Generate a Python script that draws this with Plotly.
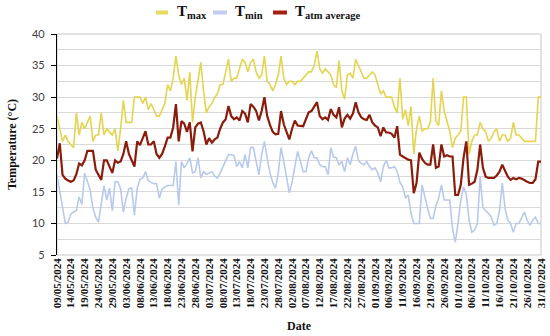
import pandas as pd
import plotly.graph_objects as go

start_date = "2024-05-09"
n_days = 176
dates = pd.date_range(start_date, periods=n_days, freq="D")

t_max = [27, 25, 23, 24, 23, 22.5, 22, 27.5, 24, 26, 25, 26, 27, 23, 24, 24, 27.5, 24, 25, 24.5,
         24, 25, 21.5, 25, 29.5, 26, 26, 26, 30, 30, 30, 29, 30, 28, 29, 28, 27, 27, 28, 29,
         32, 31, 33, 36.5, 33.5, 32, 33, 29.5, 34, 26, 30, 33, 35.5, 31, 27.5, 28.5, 29, 30, 30.5, 32,
         32, 34, 36, 32.5, 33, 33, 34.5, 36, 35.5, 34, 35.5, 36, 34, 33, 33.5, 36.5, 32.5, 32, 31, 32,
         33.5, 36.5, 33, 32, 32.5, 32.5, 32, 32.5, 32.5, 33, 33.5, 34, 34, 35, 37.3, 34.5, 33.8, 34.5, 34, 33.5,
         32, 31.5, 35.8, 31, 29.7, 33.5, 33.8, 33, 36, 35, 34, 33, 33, 33.5, 34, 33.5, 32, 30.5, 31, 30,
         30, 30, 28.5, 27.5, 33, 26.5, 28, 25.5, 28.5, 21, 25, 27, 24.6, 25, 25, 26, 33, 26.2, 25.5, 31,
         27.8, 26, 24.6, 22, 23.5, 24, 24.6, 30, 30, 21, 23, 24, 24, 26, 25, 24.5, 23, 23.5, 24.5, 25,
         23, 24, 24, 23, 23.5, 26, 24, 24, 23.5, 23, 23, 23, 23, 23, 30, 30]

t_min = [17.7, 15, 12.9, 10, 10.2, 11.5, 11.8, 12, 14.2, 13, 18, 16.5, 15.3, 12.4, 11, 10.2, 13.5, 16, 13.7, 15.6,
         12, 16.6, 16.6, 15.5, 11.8, 14, 15.5, 15.6, 11.3, 15.6, 17, 17.2, 18.2, 16.8, 16.5, 16.3, 16.3, 14, 15.5, 15.8,
         16, 16, 16, 19.8, 12.9, 19.8, 18.8, 19.5, 20.4, 18, 18.2, 20.4, 17.2, 18.2, 17.8, 18, 18.2, 17.5, 17.2, 18,
         19, 20, 20.9, 20.9, 20.7, 19, 19.8, 18.8, 20.9, 18.8, 22, 22, 19.8, 17.7, 20.9, 23, 20.3, 18, 16.5, 15.6,
         18, 22, 19.8, 17, 14.8, 16.6, 19.2, 21.4, 19.8, 18.2, 18.2, 20.4, 21.5, 20.4, 20.4, 19.3, 19, 19, 17.7, 22,
         20.5, 20.4, 19.3, 19.8, 18.2, 20.4, 19.3, 21, 22.2, 20, 19.5, 19.3, 19.8, 19, 18.5, 18.8, 18, 16.6, 19, 20,
         18.8, 18.8, 19, 18.2, 16.5, 15.8, 14, 14.5, 11.6, 10, 10, 10, 16.1, 14, 12.4, 10.8, 10.8, 12.8, 14, 16.1,
         13.7, 13.7, 13.7, 9.2, 7, 10, 13.7, 15.8, 14.5, 10.5, 8.6, 9, 10, 17.4, 12.5, 12, 11.6, 11, 9.7, 10,
         12, 16.4, 12.4, 10.5, 10, 8.6, 10, 10, 10.8, 11.8, 10.5, 9.7, 10.5, 11, 10, 10]

t_avg = [20.3, 22.7, 17.7, 17.1, 16.8, 16.6, 16.8, 17.8, 19.5, 19.2, 20, 21.5, 21.5, 21.5, 18.5, 17.7, 16.9, 20, 20, 19,
         18, 20, 19.6, 19.8, 21, 23, 21, 20, 19, 23, 22.4, 23.5, 24.6, 22.5, 22.5, 23, 21, 20.4, 21, 22.2,
         23.6, 23.6, 25.2, 28.9, 23, 26.2, 25.8, 24.5, 26, 21.4, 25.2, 25.8, 26, 24.6, 22.5, 23.5, 22.8, 23.3, 23.6, 25,
         26, 26.5, 28.6, 27, 26.5, 26.8, 26.3, 27.8, 27.4, 26, 28.9, 28.5, 27.8, 26.3, 27.8, 30, 27, 25.6, 24.5, 24.1,
         24.2, 27.8, 25.7, 24.5, 23.3, 25, 26.3, 25.5, 25.4, 25.4, 26.5, 27.6, 27.8, 28.6, 29.2, 27, 26.5, 26.8, 26.4, 28.1,
         27.2, 26.8, 28.4, 25.2, 26.6, 27.2, 26.6, 27.4, 29.2, 27.6, 26.8, 26.5, 26.4, 27.2, 26, 25.5, 25.2, 23.8, 25.2, 24.4,
         24.4, 24.2, 23.6, 25.4, 20.9, 20.6, 20.3, 20.1, 20, 14.8, 16.4, 21.2, 20.2, 19.6, 19.3, 19.3, 22.5, 18.8, 19, 22.5,
         20.6, 20.8, 20.6, 20.6, 14.5, 14.5, 16.1, 20.4, 23, 16.1, 16.3, 16.6, 18.5, 22.5, 18.8, 17.4, 17.2, 17.2, 17.2, 17.6,
         18.2, 19.3, 18.2, 17.4, 16.9, 17.2, 17, 17.2, 17.1, 16.8, 16.6, 16.4, 16.4, 17, 19.8, 19.8]

series_names = ["T<sub>max</sub>", "T<sub>min</sub>", "T<sub>atm average</sub>"]
series_colors = ["#e5d450", "#b9c9ee", "#8a1c0c"]
legend_colors = ["#e8da5c", "#c3cdf0", "#a52010"]

W, H = 550, 336
ML, MR, MT, MB = 57, 9, 34, 81
PW, PH = W - ML - MR, H - MT - MB


def px_x(p):
    return (p - ML) / PW


def px_y(p):
    return (H - MB - p) / PH


fig = go.Figure()
for vals, name, col, w in zip([t_max, t_min, t_avg], series_names, series_colors, [1.6, 1.6, 2.2]):
    fig.add_trace(go.Scatter(x=dates, y=vals, mode="lines", name=name,
                             line=dict(color=col, width=w), showlegend=False))

# custom legend (text + sample bars)
leg_items = [(156, 168, 175), (213, 227, 233), (273, 287, 293)]
for (x0, x1, tx), name, col in zip(leg_items, series_names, legend_colors):
    fig.add_shape(type="rect", xref="paper", yref="paper",
                  x0=px_x(x0), x1=px_x(x1), y0=px_y(14.5), y1=px_y(10.5),
                  fillcolor=col, line=dict(width=0))
    fig.add_annotation(xref="paper", yref="paper", x=px_x(tx), y=px_y(12),
                       xanchor="left", yanchor="middle", showarrow=False,
                       text=name, font=dict(family="Liberation Serif", size=15,
                                            color="#111111", weight="bold"))

# plot border (grey)
fig.add_shape(type="rect", xref="paper", yref="paper", x0=0, x1=1, y0=0, y1=1,
              line=dict(color="#c8c8c8", width=1), layer="below")

fig.update_layout(
    width=W, height=H,
    margin=dict(l=ML, r=MR, t=MT, b=MB, autoexpand=False),
    paper_bgcolor="white", plot_bgcolor="white",
    showlegend=False,
    xaxis=dict(
        type="date",
        range=["2024-05-09", "2024-10-31"],
        tick0="2024-05-09", dtick=5 * 86400000,
        tickformat="%d/%m/%Y", tickangle=-90,
        tickfont=dict(family="Liberation Serif", size=11, color="#111111", weight="bold"),
        showgrid=False, zeroline=False, ticks="", showline=False,
        title=dict(text="Date", standoff=14,
                   font=dict(family="Liberation Serif", size=12, color="#111111", weight="bold")),
        automargin=False,
    ),
    yaxis=dict(
        range=[5, 40], dtick=5, tick0=5,
        showgrid=True, gridcolor="#d9d9d9", gridwidth=1,
        minor=dict(dtick=2.5, showgrid=True, gridcolor="#d9d9d9", gridwidth=1),
        showline=True, linecolor="#000000", linewidth=1.3,
        ticks="outside", ticklen=5, tickcolor="#000000", tickwidth=1.3,
        ticklabelstandoff=4,
        tickfont=dict(family="Lato", size=11, color="#404040"),
        zeroline=False,
        title=dict(text="Temperature (°C)", standoff=12,
                   font=dict(family="Liberation Serif", size=12, color="#111111", weight="bold")),
        automargin=False,
    ),
)

fig.write_html("out.html", config={"displayModeBar": False},
               post_script="document.body.style.margin='0';document.body.style.padding='0';")
